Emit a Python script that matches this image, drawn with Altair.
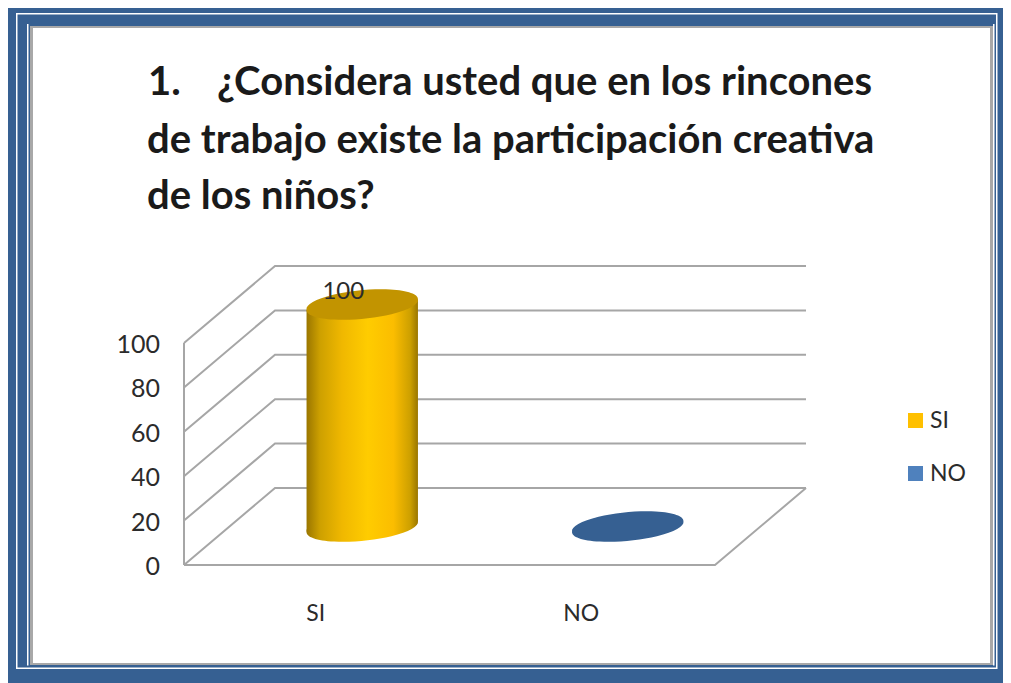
import altair as alt
import pandas as pd

# ---- chart values
categories = ["SI", "NO"]
values = [100, 0]
ticks = [0, 20, 40, 60, 80, 100]
title_lines = [
    "¿Considera usted que en los rincones",
    "de trabajo existe la participación creativa",
    "de los niños?",
]

# ---- projection of the pseudo-3D box
W, H = 995, 675
OX, OY = 8, 8
X0, STEP = 184, 265.5       # front-left corner and category width (page px)
Y0, UNIT = 565, 2.22        # baseline and px per value unit
DX, DY = 91, 77             # depth offset of the back wall


def px(c, d, v):
    return c + d * DX / STEP, v + d * DY / UNIT


x_scale = alt.Scale(domain=[(OX - X0) / STEP, (OX + W - X0) / STEP], nice=False, zero=False)
y_scale = alt.Scale(domain=[(Y0 - OY - H) / UNIT, (Y0 - OY) / UNIT], nice=False, zero=False)
X = alt.X("x:Q", scale=x_scale, axis=None)
Y = alt.Y("y:Q", scale=y_scale, axis=None)

GRID = "#A6A6A6"
BLUE = "#366092"
TXT = "#2b2b2b"
FONT = "Lato"

# ---- frame
one = pd.DataFrame({"a": [0]})


def box(x1, y1, x2, y2, **kw):
    return alt.Chart(one).mark_rect(**kw).encode(
        x=alt.value(x1 - OX), x2=alt.value(x2 - OX), y=alt.value(y1 - OY), y2=alt.value(y2 - OY)
    )


frame = [
    box(8, 8, 1003, 683, color=BLUE),
    box(16, 13, 997.5, 669, color="white"),
    box(17.5, 14.5, 996, 667.5, color=BLUE),
    box(27, 24, 994.5, 665.5, color="white"),
    box(28.5, 24, 993, 667, color=BLUE),
    box(30, 26, 993, 665, color="#A8A8A8"),
    box(33, 28, 990, 663, color="white"),
]

# ---- walls and floor
rows = []
for t in ticks:
    pts = [(0, 0, t), (0, 1, t), (2, 1, t)]
    for i, p in enumerate(pts):
        x, y = px(*p)
        rows.append({"g": f"t{t}", "o": i, "x": x, "y": y})
extra = {
    "axis": [(0, 0, 0), (0, 0, 100)],
    "floor": [(0, 0, 0), (2, 0, 0), (2, 1, 0)],
}
for name, pts in extra.items():
    for i, p in enumerate(pts):
        x, y = px(*p)
        rows.append({"g": name, "o": i, "x": x, "y": y})
grid = alt.Chart(pd.DataFrame(rows)).mark_line(color=GRID, strokeWidth=2).encode(
    x=X, y=Y, detail="g:N", order="o:Q"
)

# ---- tick labels
tick_df = pd.DataFrame([{"x": px(0, 0, t)[0], "y": px(0, 0, t)[1], "t": str(t)} for t in ticks])
tick_text = alt.Chart(tick_df).mark_text(
    align="right", baseline="middle", dx=-24, dy=2, font=FONT, fontSize=25, color=TXT
).encode(x=X, y=Y, text="t:N")

# ---- category labels
cat_df = pd.DataFrame([{"x": i + 0.5, "y": (Y0 - 614) / UNIT, "t": c} for i, c in enumerate(categories)])
cat_text = alt.Chart(cat_df).mark_text(
    align="center", baseline="middle", dx=-1, font=FONT, fontSize=23, color=TXT
).encode(x=X, y=Y, text="t:N")

# ---- cylinders
A, B, ROT = 56, 13.8, -5.5
TX, TY = 55.7, 5.2
ELLIPSE = (
    f"M {-TX} {TY} A {A} {B} {ROT} 1 1 {TX} {-TY} "
    f"A {A} {B} {ROT} 1 1 {-TX} {TY} Z"
)
body_grad = alt.Gradient(
    gradient="linear", x1=0, x2=1, y1=0, y2=0,
    stops=[
        alt.GradientStop(color="#9A7600", offset=0),
        alt.GradientStop(color="#CDA000", offset=0.12),
        alt.GradientStop(color="#F0B800", offset=0.32),
        alt.GradientStop(color="#FFCC00", offset=0.55),
        alt.GradientStop(color="#FBBD00", offset=0.78),
        alt.GradientStop(color="#CDA000", offset=0.93),
        alt.GradientStop(color="#9A7600", offset=1),
    ],
)

cyl = []
for i, (c, v) in enumerate(zip(categories, values)):
    cx, base = px(i + 0.5, 0.5, 0)
    _, top = px(i + 0.5, 0.5, v)
    if v > 0:
        side = pd.DataFrame([
            {"x": cx - TX / STEP, "y": top - TY / UNIT, "y2": base - TY / UNIT},
            {"x": cx + TX / STEP, "y": top + TY / UNIT, "y2": base + TY / UNIT},
        ])
        cyl.append(
            alt.Chart(pd.DataFrame({"x": [cx], "y": [base]})).mark_point(
                shape=ELLIPSE, size=4, filled=True, opacity=1, fill=body_grad, strokeWidth=0
            ).encode(x=X, y=Y)
        )
        cyl.append(
            alt.Chart(side).mark_area(fill=body_grad, orient="vertical", line=False).encode(
                x=X, y=Y, y2="y2:Q"
            )
        )
    cap = "#C29400" if c == "SI" else BLUE
    cyl.append(
        alt.Chart(pd.DataFrame({"x": [cx], "y": [top]})).mark_point(
            shape=ELLIPSE, size=4, filled=True, opacity=1, fill=cap, strokeWidth=0
        ).encode(x=X, y=Y)
    )

# ---- value label
val_df = pd.DataFrame([{"x": px(0.5, 0.5, values[0])[0], "y": px(0.5, 0.5, values[0])[1], "t": str(values[0])}])
val_text = alt.Chart(val_df).mark_text(
    align="center", baseline="middle", dx=-19, dy=-13, font=FONT, fontSize=24, color=TXT
).encode(x=X, y=Y, text="t:N")


# ---- fixed texts and legend
def label(s, x, y, **kw):
    return alt.Chart(one).mark_text(font=FONT, align="left", baseline="alphabetic", **kw).encode(
        x=alt.value(x - OX), y=alt.value(y - OY), text=alt.value(s)
    )


T = dict(fontSize=40, fontWeight="bold", color="#1a1a1a")
titles = [
    label("1.", 148, 95, **T),
    label(title_lines[0], 217, 95, **T),
    label(title_lines[1], 147, 153, **T),
    label(title_lines[2], 147, 209, **T),
]

legend = []
for name, col, ly in zip(categories, ["#FFC000", "#4F81BD"], [420, 473]):
    legend.append(box(908, ly - 7, 923, ly + 8, color=col))
    legend.append(label(name, 930, ly + 8, fontSize=23, color=TXT))

chart = alt.layer(
    *frame, grid, tick_text, cat_text, *cyl, val_text, *titles, *legend
).properties(
    width=W, height=H, padding=0, background="white",
    autosize=alt.AutoSizeParams(type="none"),
).configure_view(stroke=None)

chart.save("out.html", embed_options={"renderer": "svg", "actions": False})
